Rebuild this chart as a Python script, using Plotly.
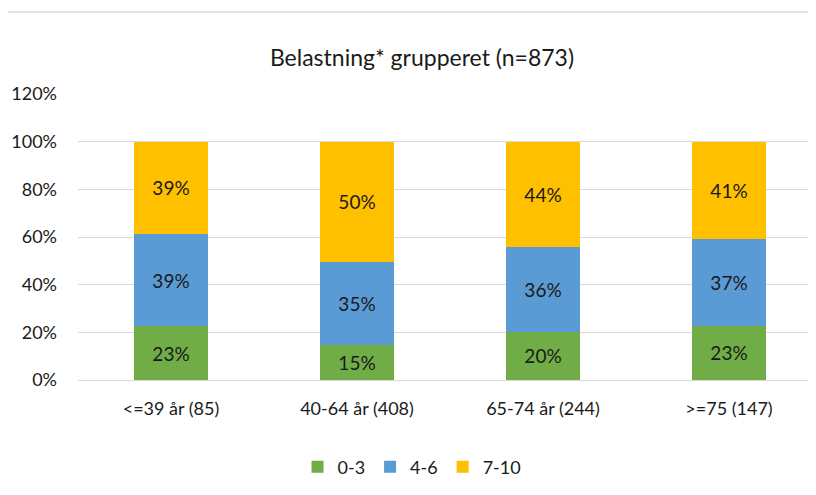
import plotly.graph_objects as go

categories = ["<=39 år (85)", "40-64 år (408)", "65-74 år (244)", ">=75 (147)"]
series_names = ["0-3", "4-6", "7-10"]
v_0_3 = [0.226, 0.147, 0.202, 0.227]
v_4_6 = [0.387, 0.349, 0.357, 0.366]
v_7_10 = [0.387, 0.504, 0.441, 0.407]
colors = ["#70AD47", "#5B9BD5", "#FFC000"]
y_ticks = [0, 0.2, 0.4, 0.6, 0.8, 1.0, 1.2]

FONT = "Lato, 'Open Sans', sans-serif"
TXT = "#1a1a1a"

fig = go.Figure()
for name, vals, col in zip(series_names, [v_0_3, v_4_6, v_7_10], colors):
    fig.add_trace(go.Bar(
        x=categories, y=vals, name=name,
        marker=dict(color=col, line=dict(width=0)),
        texttemplate="%{y:.0%}", textposition="inside",
        insidetextanchor="middle", textangle=0, constraintext="none",
        textfont=dict(size=19, color=TXT, family=FONT),
        hoverinfo="skip",
    ))

# the page body keeps its default 8px margin; coordinates below are page pixels minus 8
OFF = 8
L, T, B = 78 - OFF, 94 - OFF, 115 - OFF
W, H = 816 - 2 * OFF, 495 - 2 * OFF
pw = W - L
ph = H - T - B

fig.update_layout(
    width=W, height=H,
    margin=dict(l=L, r=0, t=T, b=B, pad=0),
    barmode="stack", bargap=0.6,
    paper_bgcolor="white", plot_bgcolor="white",
    font=dict(family=FONT, size=18, color=TXT),
    title=dict(text="Belastning* grupperet (n=873)", x=(422 - OFF) / W, xref="container",
               xanchor="center", y=1 - (58 - OFF) / H, yref="container", yanchor="middle",
               font=dict(size=23, color=TXT, family=FONT)),
    showlegend=True,
    legend=dict(orientation="h", xref="container", x=(412 - OFF) / W, xanchor="center",
                yref="container", y=1 - (467 - OFF) / H, yanchor="middle",
                font=dict(size=18, color=TXT), itemwidth=30, traceorder="normal",
                tracegroupgap=0),
    xaxis=dict(type="category", range=[-0.5, -0.5 + pw / 186], showgrid=False,
               showline=True, linecolor="#d9d9d9", linewidth=1, ticks="",
               tickfont=dict(size=18, color=TXT), ticklabelstandoff=12,
               fixedrange=True),
    yaxis=dict(range=[0, 1.2], tickvals=y_ticks, tickformat=".0%",
               showgrid=True, gridcolor="#d9d9d9", gridwidth=1,
               zeroline=False, showline=False, ticks="",
               tickfont=dict(size=18, color=TXT), ticklabelstandoff=20,
               fixedrange=True),
)

# chart frame: top edge (left edge lies in the page margin)
fig.add_shape(type="line", xref="paper", yref="paper",
              x0=-L / pw, x1=1.2, y0=(H - B - (12 - OFF)) / ph, y1=(H - B - (12 - OFF)) / ph,
              line=dict(color="#d9d9d9", width=1.5), layer="below")

fig.write_html("out.html", config={"displayModeBar": False})
